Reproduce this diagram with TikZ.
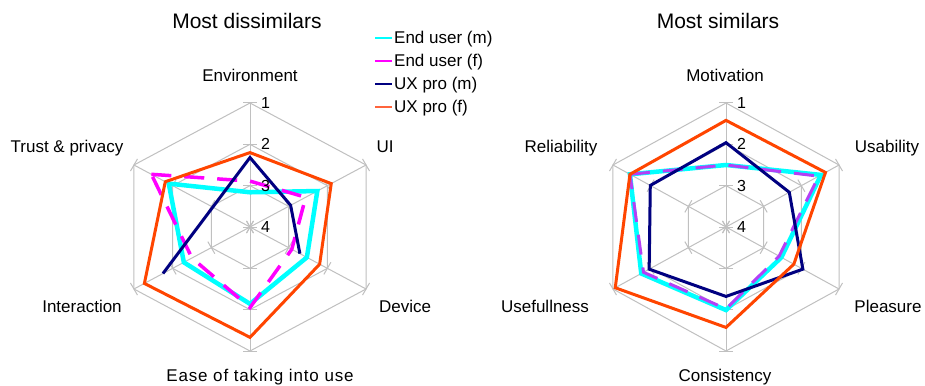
\documentclass[tikz,border=0pt]{standalone}
\usepackage{fontspec}
\setmainfont{Liberation Sans}

\definecolor{gridgray}{RGB}{192,192,192}
\definecolor{enduserm}{RGB}{0,255,255}
\definecolor{enduserf}{RGB}{255,0,255}
\definecolor{enduserfb}{RGB}{180,64,245}
\definecolor{uxprom}{RGB}{0,0,128}
\definecolor{uxprof}{RGB}{255,69,0}
\definecolor{uxproflegend}{RGB}{255,100,60}

\tikzset{
  gridline/.style={draw=gridgray, line width=1pt},
  serA/.style={draw=enduserm, line width=4.5pt},
  serB/.style={draw=enduserf, line width=3.5pt, dash pattern=on 20pt off 13pt},
  serC/.style={draw=uxprom, line width=3pt},
  serD/.style={draw=uxprof, line width=3pt},
  axislabel/.style={font=\fontsize{17}{17}\selectfont, anchor=base, inner sep=0pt},
  titlelabel/.style={font=\fontsize{21}{21}\selectfont, anchor=base, inner sep=0pt},
  valuelabel/.style={font=\fontsize{16}{16}\selectfont, anchor=base west, inner sep=0pt},
  legendtext/.style={font=\fontsize{17}{17}\selectfont, anchor=base west, inner sep=0pt},
}

% hexagonal radar grid: rings, spokes and tick marks
\newcommand\radargrid{%
  \foreach \r in {0.3333,0.6667,1}
    \draw[gridline] (90:\r) -- (30:\r) -- (-30:\r) -- (-90:\r) -- (-150:\r) -- (150:\r) -- cycle;
  \foreach \a in {90,30,-30,-90,-150,150} {
    \draw[gridline] (0,0) -- (\a:1);
    \foreach \r in {0,0.3333,0.6667,1}
      \draw[gridline] ([shift={(\a+90:7pt)}]\a:\r) -- ([shift={(\a-90:7pt)}]\a:\r);
  }%
}

\begin{document}
\begin{tikzpicture}[x=1pt, y=-1pt]
  \fill[white] (0,0) rectangle (925,385);
  \useasboundingbox (0,0) rectangle (925,385);

  % ---------- left chart ----------
  \begin{scope}[shift={(250,227)}, x=134pt, y=124pt]
    \radargrid
    \draw[serA] (90:0.28) -- (30:0.58) -- (-30:0.49) -- (-90:0.62) -- (-150:0.57) -- (150:0.70) -- cycle;
    \draw[serB] (150:0.85) -- (90:0.37) -- (30:0.48) -- (-30:0.36) -- (-90:0.65) -- (-150:0.50) -- cycle;
    \draw[serC] (-150:0.75) -- (90:0.56) -- (30:0.35) -- (-30:0.43);
    \draw[serD] (90:0.60) -- (30:0.70) -- (-30:0.60) -- (-90:0.89) -- (-150:0.91) -- (150:0.73) -- cycle;
  \end{scope}
  \node[valuelabel] (l1) at (261,108.5) {1};
  \node[valuelabel] (l2) at (261,149) {2};
  \node[valuelabel] (l3) at (261,191) {3};
  \node[valuelabel] (l4) at (261,232) {4};

  \node[titlelabel] (ltitle) at (247,29) {Most dissimilars};
  \node[axislabel] (env) at (250,82) {Environment};
  \node[axislabel] (ui) at (385,152) {UI};
  \node[axislabel] (dev) at (405,312) {Device};
  \node[axislabel] (ease) at (260,381) {\addfontfeature{LetterSpace=5}Ease of taking into use};
  \node[axislabel] (inter) at (82,312) {Interaction};
  \node[axislabel] (trust) at (67,152) {Trust \& privacy};

  % ---------- right chart ----------
  \begin{scope}[shift={(726,227)}, x=130.5pt, y=124pt]
    \radargrid
    \draw[serA] (90:0.50) -- (30:0.84) -- (-30:0.49) -- (-90:0.67) -- (-150:0.75) -- (150:0.85) -- cycle;
    \draw[serB, draw=enduserfb, line width=3pt] (150:0.85) -- (90:0.50) -- (30:0.82) -- (-30:0.47) -- (-90:0.66) -- (-150:0.73) -- cycle;
    \draw[serC] (90:0.68) -- (30:0.56) -- (-30:0.68) -- (-90:0.56) -- (-150:0.68) -- (150:0.67) -- cycle;
    \draw[serD] (90:0.86) -- (30:0.88) -- (-30:0.60) -- (-90:0.81) -- (-150:0.98) -- (150:0.85) -- cycle;
  \end{scope}
  \node[valuelabel] (r1) at (737,108.5) {1};
  \node[valuelabel] (r2) at (737,149) {2};
  \node[valuelabel] (r3) at (737,191) {3};
  \node[valuelabel] (r4) at (737,232) {4};

  \node[titlelabel] (rtitle) at (718,29) {Most similars};
  \node[axislabel] (mot) at (725,82) {Motivation};
  \node[axislabel] (usa) at (887,152) {Usability};
  \node[axislabel] (ple) at (888,312) {Pleasure};
  \node[axislabel] (con) at (725,381) {Consistency};
  \node[axislabel] (usef) at (545,312) {Usefullness};
  \node[axislabel] (rel) at (561,152) {Reliability};

  % ---------- legend ----------
  \coordinate (la0) at (375,38.5);  \coordinate (la1) at (392,38.5);
  \coordinate (lb0) at (375,61.5);  \coordinate (lb1) at (392,61.5);
  \coordinate (lc0) at (375,84.5);  \coordinate (lc1) at (392,84.5);
  \coordinate (ld0) at (375,107.5); \coordinate (ld1) at (392,107.5);
  \draw[enduserm, line width=2pt] (la0) -- (la1);
  \draw[enduserf, line width=2pt] (lb0) -- (lb1);
  \draw[uxprom, line width=2pt] (lc0) -- (lc1);
  \draw[uxproflegend, line width=2pt] (ld0) -- (ld1);
  \node[legendtext] (ta) at (394,44) {End user (m)};
  \node[legendtext] (tb) at (394,67) {End user (f)};
  \node[legendtext] (tc) at (394,90) {UX pro (m)};
  \node[legendtext] (td) at (394,113) {UX pro (f)};
\end{tikzpicture}
\end{document}
